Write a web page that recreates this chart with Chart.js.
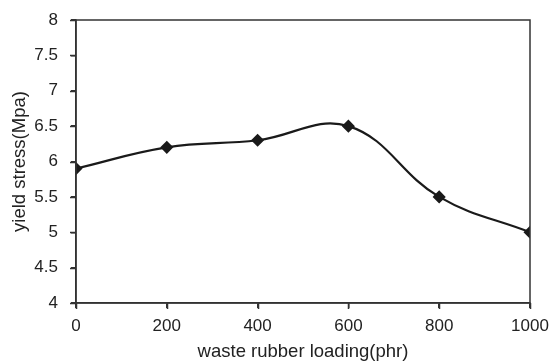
<!DOCTYPE html>
<html>
<head>
<meta charset="utf-8">
<script src="https://cdn.jsdelivr.net/npm/chart.js@4.4.0/dist/chart.umd.min.js"></script>
<style>
  html, body { margin: 0; padding: 0; background: #fff; }
  #wrap { width: 552px; height: 363px; }
</style>
</head>
<body>
<div id="wrap"><canvas id="yieldChart"></canvas></div>
<script>
// waste rubber loading (phr) vs yield stress (Mpa)
var loading = [0, 200, 400, 600, 800, 1000];
var yieldStress = [5.9, 6.2, 6.3, 6.5, 5.5, 5.0];
var xTicks = [0, 200, 400, 600, 800, 1000];
var yTicks = [4, 4.5, 5, 5.5, 6, 6.5, 7, 7.5, 8];

var points = loading.map(function (x, i) { return { x: x, y: yieldStress[i] }; });

// box round the plot area, plus outward tick marks
var frame = {
	id: 'frame',
	afterDraw: function (chart) {
		var a = chart.chartArea, c = chart.ctx;
		var xs = chart.scales.x, ys = chart.scales.y;
		c.save();
		c.strokeStyle = '#333';
		c.lineWidth = 1.5;
		c.strokeRect(a.left, a.top, a.right - a.left, a.bottom - a.top);
		c.beginPath();
		xTicks.forEach(function (v) {
			var px = Math.round(xs.getPixelForValue(v)) + 0.5;
			c.moveTo(px, a.bottom);
			c.lineTo(px, a.bottom + 6);
		});
		yTicks.forEach(function (v) {
			var py = Math.round(ys.getPixelForValue(v)) + 0.5;
			c.moveTo(a.left, py);
			c.lineTo(a.left - 6, py);
		});
		c.stroke();
		c.restore();
	}
};

var tickFont = { family: 'Liberation Sans, Arial, sans-serif', size: 17 };
var titleFont = { family: 'Liberation Sans, Arial, sans-serif', size: 18.5 };
function plain(v) { return String(v); }

var ctx = document.getElementById('yieldChart').getContext('2d');
var yieldChart = new Chart(ctx, {
	type: 'line',
	data: {
		datasets: [{
			label: 'yield stress',
			data: points,
			borderColor: '#1a1a1a',
			backgroundColor: '#1a1a1a',
			borderWidth: 2.2,
			tension: 0.4,
			pointStyle: 'rectRot',
			pointRadius: 5,
			pointHoverRadius: 5
		}]
	},
	options: {
		responsive: true,
		maintainAspectRatio: false,
		animation: false,
		layout: { padding: { left: 9, top: 20, right: 22, bottom: 0 } },
		plugins: {
			legend: { display: false },
			tooltip: { enabled: false }
		},
		scales: {
			x: {
				type: 'linear',
				min: 0,
				max: 1000,
				afterBuildTicks: function (s) { s.ticks = xTicks.map(function (v) { return { value: v }; }); },
				afterFit: function (s) { s.height = 60; s.paddingLeft = 0; s.paddingRight = 0; },
				grid: { display: true, drawOnChartArea: false, drawTicks: true, tickLength: 5, color: '#333', lineWidth: 1.5 },
				border: { display: true, color: '#333', width: 1.5 },
				ticks: { color: '#222', font: tickFont, padding: 8, maxRotation: 0, callback: plain },
				title: { display: true, text: 'waste rubber loading(phr)', color: '#222', font: titleFont, padding: { top: 2, bottom: 0 } }
			},
			y: {
				min: 4,
				max: 8,
				afterBuildTicks: function (s) { s.ticks = yTicks.map(function (v) { return { value: v }; }); },
				afterFit: function (s) { s.width = 67; s.paddingTop = 0; s.paddingBottom = 0; },
				grid: { display: true, drawOnChartArea: false, drawTicks: true, tickLength: 5, color: '#333', lineWidth: 1.5 },
				border: { display: true, color: '#333', width: 1.5 },
				ticks: { color: '#222', font: tickFont, padding: 13, callback: plain },
				title: { display: true, text: 'yield stress(Mpa)', color: '#222', font: titleFont, padding: { top: 0, bottom: 4 } }
			}
		}
	},
	plugins: [frame]
});
</script>
</body>
</html>
